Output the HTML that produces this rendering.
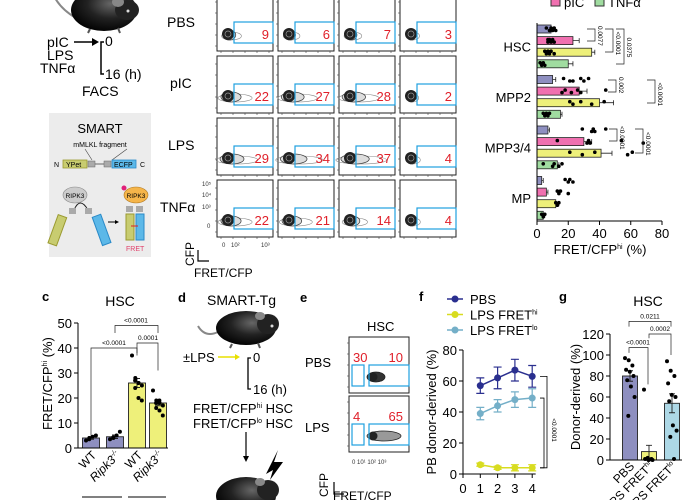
<!DOCTYPE html>
<html><head><meta charset="utf-8"><style>
body{margin:0;background:#fff;}
svg{display:block;font-family:"Liberation Sans",Arial,sans-serif;}
</style></head><body>
<svg id="fig" width="685" height="500" viewBox="0 0 685 500" xmlns="http://www.w3.org/2000/svg">
<defs>
<radialGradient id="mg" cx="0.6" cy="0.35" r="0.7"><stop offset="0" stop-color="#666"/><stop offset="0.5" stop-color="#222"/><stop offset="1" stop-color="#000"/></radialGradient>
</defs>
<!-- Panel a schematic -->
<g>
<path d="M76 18 Q62 10 55 -2" stroke="#888" stroke-width="2" fill="none"/>
<ellipse cx="104" cy="10" rx="33" ry="21" fill="url(#mg)"/>
<ellipse cx="127" cy="10" rx="12" ry="10" fill="#222"/>
<ellipse cx="118" cy="2" rx="6" ry="5" fill="#888"/>
<circle cx="128" cy="11" r="1.5" fill="#ddd"/>
<line x1="90" y1="29" x2="88" y2="33" stroke="#555" stroke-width="2"/><line x1="118" y1="28" x2="120" y2="33" stroke="#555" stroke-width="2"/>
</g>
<g font-size="14">
<text x="47" y="47">pIC</text><text x="47" y="60">LPS</text><text x="40" y="73">TNFα</text>
</g>
<line x1="74" y1="42" x2="92" y2="42" stroke="#000" stroke-width="1.5"/><polygon points="92,38 99,42 92,46" fill="#000"/>
<path d="M104 42 H101 V74 H104" stroke="#000" stroke-width="1.5" fill="none"/>
<text x="105" y="46" font-size="14">0</text><text x="105" y="79" font-size="14">16 (h)</text>
<text x="82" y="96" font-size="14">FACS</text>
<g>
<rect x="49" y="113" width="102" height="144" fill="#ececec"/>
<text x="100" y="133" font-size="13" text-anchor="middle">SMART</text>
<text x="100" y="147" font-size="7" text-anchor="middle">mMLKL fragment</text>
<line x1="85" y1="149" x2="92" y2="160" stroke="#444" stroke-width="0.6"/><line x1="127" y1="149" x2="112" y2="160" stroke="#444" stroke-width="0.6"/>
<text x="54" y="167" font-size="7">N</text>
<rect x="63" y="160" width="24" height="8" fill="#c8cc70" stroke="#9a9a30" stroke-width="0.8"/><text x="66" y="167" font-size="7">YPet</text>
<rect x="88" y="161" width="7" height="6" fill="#aaa" stroke="#666" stroke-width="0.5"/><line x1="95" y1="164" x2="104" y2="164" stroke="#666"/>
<rect x="104" y="161" width="7" height="6" fill="#aaa" stroke="#666" stroke-width="0.5"/>
<rect x="112" y="160" width="24" height="8" fill="#5cb8e8" stroke="#2a8ac8" stroke-width="0.8"/><text x="114" y="167" font-size="7">ECFP</text>
<text x="140" y="167" font-size="7">C</text>
<ellipse cx="75" cy="195" rx="12" ry="8" fill="#ccc" stroke="#888" stroke-width="0.6"/><text x="75" y="198" font-size="6.5" text-anchor="middle">RIPK3</text>
<path d="M74 210 Q80 196 88 210" stroke="#222" fill="none"/>
<rect x="69" y="208" width="7" height="6" fill="#aaa"/><rect x="85" y="208" width="7" height="6" fill="#aaa"/>
<rect x="58" y="216" width="9" height="30" fill="#c8cc70" stroke="#9a9a30" transform="rotate(20 62 216)"/>
<rect x="92" y="216" width="9" height="30" fill="#5cb8e8" stroke="#2a8ac8" transform="rotate(-20 96 216)"/>
<line x1="108" y1="222" x2="115" y2="222" stroke="#000"/><polygon points="115,220 119,222 115,224" fill="#000"/>
<ellipse cx="136" cy="195" rx="12" ry="8" fill="#f5b54a" stroke="#b07820" stroke-width="0.6"/><text x="136" y="198" font-size="6.5" text-anchor="middle">RIPK3</text>
<circle cx="124" cy="188" r="2.5" fill="#e0207a"/>
<rect x="126" y="206" width="7" height="6" fill="#aaa"/><rect x="136" y="206" width="7" height="6" fill="#aaa"/>
<rect x="126" y="214" width="8" height="26" fill="#c8cc70" stroke="#9a9a30"/><rect x="136" y="214" width="8" height="26" fill="#5cb8e8" stroke="#2a8ac8"/>
<line x1="131" y1="226" x2="138" y2="226" stroke="#e02020"/>
<text x="126" y="251" font-size="7" fill="#e0406a">FRET</text>
</g>
<!-- panel b flow grid -->
<g id="flow"></g>
<g font-size="14">
<text x="167" y="27">PBS</text><text x="170" y="88">pIC</text><text x="168" y="150">LPS</text><text x="160" y="212">TNFα</text>
</g>
<g font-size="6" fill="#333">
<text x="202" y="186">10⁵</text><text x="202" y="197">10⁴</text><text x="202" y="209">10³</text><text x="207" y="228">0</text>
<text x="222" y="247">0</text><text x="231" y="247">10²</text><text x="261" y="247">10³</text>
</g>
<text transform="translate(194 266) rotate(-90)" font-size="12">CFP</text>
<path d="M198 250 V261 H209" stroke="#000" fill="none" stroke-width="1.2"/>
<text x="194" y="277" font-size="12">FRET/CFP</text>
<!-- panel right bars -->
<g id="hbar"></g>
<!-- panel c -->
<g id="pc"></g>
<!-- panel d -->
<text x="178" y="302" font-size="13" font-weight="bold">d</text>
<text x="207" y="305" font-size="14">SMART-Tg</text>
<g>
<path d="M218 332 Q205 338 198 326" stroke="#888" stroke-width="2" fill="none"/>
<ellipse cx="246" cy="328" rx="30" ry="17" fill="url(#mg)"/><ellipse cx="268" cy="324" rx="11" ry="10" fill="#222"/><ellipse cx="260" cy="316" rx="5" ry="4" fill="#888"/>
<circle cx="272" cy="326" r="1.5" fill="#ddd"/>
<line x1="232" y1="344" x2="230" y2="348" stroke="#555" stroke-width="2"/><line x1="258" y1="343" x2="260" y2="348" stroke="#555" stroke-width="2"/>
</g>
<text x="183" y="362" font-size="13">±LPS</text>
<line x1="218" y1="357" x2="235" y2="357" stroke="#e8e000" stroke-width="1.5"/><polygon points="235,354 240,357 235,360" fill="#e8e000"/>
<path d="M251 358 H248 V389 H251" stroke="#000" stroke-width="1.3" fill="none"/>
<text x="253" y="362" font-size="13">0</text><text x="253" y="394" font-size="13">16 (h)</text>
<text x="193" y="413" font-size="13">FRET/CFP<tspan font-size="7" dy="-5">hi</tspan><tspan dy="5"> HSC</tspan></text>
<text x="193" y="428" font-size="13">FRET/CFP<tspan font-size="7" dy="-5">lo</tspan><tspan dy="5"> HSC</tspan></text>
<line x1="246" y1="432" x2="246" y2="457" stroke="#000" stroke-width="1.2"/><polygon points="243,456 246,462 249,456" fill="#000"/>
<g>
<ellipse cx="246" cy="496" rx="30" ry="19" fill="url(#mg)"/><ellipse cx="268" cy="490" rx="11" ry="10" fill="#222"/><ellipse cx="260" cy="482" rx="5" ry="4" fill="#888"/>
<polygon points="266,474 278,450 274,462 283,462 270,480 273,470" fill="#000"/>
</g>
<!-- panel e -->
<text x="300" y="302" font-size="13" font-weight="bold">e</text>
<text x="367" y="331" font-size="13">HSC</text>
<text x="305" y="367" font-size="13">PBS</text><text x="305" y="432" font-size="13">LPS</text>
<g id="pe"></g>
<text transform="translate(328 497) rotate(-90)" font-size="12">CFP</text>
<path d="M334 482 V494 H344" stroke="#000" fill="none" stroke-width="1.2"/>
<text x="333" y="500" font-size="12">FRET/CFP</text>
<!-- panel f -->
<g id="pf"></g>
<!-- panel g -->
<g id="pg"></g>
</svg>
<script>
const NS="http://www.w3.org/2000/svg";
function mk(p,t,a,txt){const e=document.createElementNS(NS,t);for(const k in a)e.setAttribute(k,a[k]);if(txt!==undefined)e.textContent=txt;p.appendChild(e);return e;}

// ---------- flow grid data ----------
const flowRows=["PBS","pIC","LPS","TNFα"];
const flowValues=[[9,6,7,3],[22,27,28,2],[29,34,37,4],[22,21,14,4]];
const flowCols=[217,278,339,400], flowTops=[-6,56,118,180];
const flow=document.getElementById('flow');
flowValues.forEach((row,r)=>row.forEach((v,c)=>{
  const x=flowCols[c], y=flowTops[r];
  const g=mk(flow,'g',{});
  
  
  mk(g,'rect',{x:x,y:y,width:56,height:57,fill:'#fff',stroke:'#222','stroke-width':1});
  for(let i=0;i<5;i++){mk(g,'line',{x1:x-2,x2:x,y1:y+8+i*11,y2:y+8+i*11,stroke:'#444','stroke-width':0.6});mk(g,'line',{y1:y+57,y2:y+59,x1:x+4+i*12,x2:x+4+i*12,stroke:'#444','stroke-width':0.6});}
  const tail=Math.min(v,40)*0.55;
  mk(g,'ellipse',{cx:x+12+tail/2,cy:y+42,rx:5+tail,ry:4,fill:'none',stroke:'#888','stroke-width':0.6});
  mk(g,'ellipse',{cx:x+11+tail/4,cy:y+41,rx:4+tail/2,ry:5,fill:'#ddd',stroke:'#444','stroke-width':0.8});
  mk(g,'circle',{cx:x+11,cy:y+40,r:6,fill:'#222'});
  mk(g,'circle',{cx:x+11,cy:y+40,r:3,fill:'none',stroke:'#999','stroke-width':0.7});
  mk(g,'rect',{x:x+17,y:y+28,width:39,height:21,fill:'none',stroke:'#1ea0e0','stroke-width':1.2});
  const t=mk(g,'text',{x:x+52,y:y+45,'font-size':13,fill:'#e0202a','text-anchor':'end'},v);
  
  
}));

// ---------- horizontal bar chart ----------
const hbGroups=["HSC","MPP2","MPP3/4","MP"];
const hbSeriesNames=["PBS","pIC","LPS","TNFα"];
const hbPBS=[9,10,7,3];
const hbPIC=[23,27,30,6];
const hbLPS=[35,40,41,12];
const hbTNF=[20,15,13,4];
const hbErr=[[2,2,1,1],[4,5,5,1],[2,9,7,2],[3,1,1,1]];
const hbDots=[
 [[6,8,9,10,11,12],[7,7,8,9,10,11],[5,6,7,8,9,11],[2,3,4,5]],
 [[17,23,28,30,33,21],[18,22,26,28,44,16],[21,23,28,35,43],[4,5,6,7,8]],
 [[29,35,36,37,44],[13,32,33,34,54,68],[21,29,37,58,61],[4,10,11,14,16]],
 [[18,20,21,23],[13,14,15,20],[12,13,14],[3,4,5]]];
const hbTicks=[0,20,40,60,80];
const hbColors=["#8e8fc0","#f070b0","#eef07a","#a0dca0"];
const hx=v=>537+v*1.5625;
const hy=(g,s)=>29+g*50.5+s*11.6;
const hb=document.getElementById('hbar');
mk(hb,'rect',{x:551,y:-2,width:9,height:8,fill:hbColors[1],stroke:'#333'});
mk(hb,'text',{x:564,y:7,'font-size':13},"pIC");
mk(hb,'rect',{x:595,y:-2,width:9,height:8,fill:hbColors[3],stroke:'#333'});
mk(hb,'text',{x:608,y:7,'font-size':13},"TNFα");
const hbSeries=[hbPBS,hbPIC,hbLPS,hbTNF];
hbGroups.forEach((gn,g)=>{
  const lab=mk(hb,'text',{x:531,y:hy(g,1.5)+5,'font-size':13,'text-anchor':'end'},gn);
  
  
  hbSeries.forEach((ser,s)=>{
    const v=ser[g],y=hy(g,s);
    const b=mk(hb,'rect',{x:hx(0),y:y-4,width:hx(v)-hx(0),height:8,fill:hbColors[s],stroke:'#222','stroke-width':0.8});
    
    
    const e=hbErr[s][g];
    mk(hb,'path',{d:`M${hx(v)} ${y}H${hx(v+e)}M${hx(v+e)} ${y-2.5}V${y+2.5}`,stroke:'#222','stroke-width':0.8,fill:'none'});
    hbDots[g][s].forEach((d,i)=>mk(hb,'circle',{cx:hx(d),cy:y+(i%2?1.5:-1),r:1.8,fill:'#000'}));
  });
});
mk(hb,'line',{x1:hx(0),x2:hx(0),y1:23,y2:221,stroke:'#000'});
mk(hb,'line',{x1:hx(0),x2:hx(80),y1:221,y2:221,stroke:'#000'});
hbTicks.forEach(t=>{mk(hb,'line',{x1:hx(t),x2:hx(t),y1:221,y2:225,stroke:'#000'});mk(hb,'text',{x:hx(t),y:238,'font-size':13,'text-anchor':'middle'},t);});
mk(hb,'text',{x:600,y:254,'font-size':13,'text-anchor':'middle'},"FRET/CFP").innerHTML='FRET/CFP<tspan font-size="7" dy="-5">hi</tspan><tspan dy="5"> (%)</tspan>';
const hbBr=[[29,41,595,"0.0077"],[29,52,613,"<0.0001"],[29,64,624,"0.0375"],[80,92,616,"0.002"],[80,103,655,"<0.0001"],[129,141,617,"<0.0001"],[129,153,643,"<0.0001"]];
hbBr.forEach(([a,b,x,l])=>{
  mk(hb,'path',{d:`M${x-8} ${a}H${x}V${b}H${x-8}`,stroke:'#222','stroke-width':0.7,fill:'none'});
  mk(hb,'text',{transform:`translate(${x+3} ${(a+b)/2-9}) rotate(90)`,'font-size':6.5},l);
});

// ---------- panel c ----------
const cCats=["WT","Ripk3-/-","WT","Ripk3-/-"];
const cMeans=[4,4.5,26,18];
const cErr=[0.5,0.7,1.8,1.1];
const cDots=[[3,4,4.5,5,3.5],[3.5,4,5,6.5,4.2],[37,28,26,25,24,20,19,27,26],[23,19,18,17,16,15,13,18,19]];
const cTicks=[0,10,20,30,40,50];
const cColors=["#8e8fc0","#8e8fc0","#eef07a","#eef07a"];
const cx=[91,115,137,158], cy=v=>448-v*2.5;
const pc=document.getElementById('pc');
mk(pc,'text',{x:42,y:301,'font-size':13,'font-weight':'bold'},"c");
mk(pc,'text',{x:120,y:306,'font-size':14,'text-anchor':'middle'},"HSC");
cMeans.forEach((v,i)=>{
  const b=mk(pc,'rect',{x:cx[i]-8.5,y:cy(v),width:17,height:cy(0)-cy(v),fill:cColors[i],stroke:'#222','stroke-width':0.9});
  
  
  mk(pc,'path',{d:`M${cx[i]} ${cy(v-cErr[i])}V${cy(v+cErr[i])}M${cx[i]-3} ${cy(v+cErr[i])}h6M${cx[i]-3} ${cy(v-cErr[i])}h6`,stroke:'#222','stroke-width':0.9});
  cDots[i].forEach((d,j)=>mk(pc,'circle',{cx:cx[i]-5+(j*3.3)%10,cy:cy(d),r:2,fill:'#000'}));
});
mk(pc,'line',{x1:78,x2:78,y1:cy(50),y2:cy(0),stroke:'#000'});
mk(pc,'line',{x1:78,x2:168,y1:cy(0),y2:cy(0),stroke:'#000'});
cTicks.forEach(t=>{mk(pc,'line',{x1:74,x2:78,y1:cy(t),y2:cy(t),stroke:'#000'});mk(pc,'text',{x:72,y:cy(t)+5,'font-size':13,'text-anchor':'end'},t);});
mk(pc,'text',{transform:'translate(52 430) rotate(-90)','font-size':13}).innerHTML='FRET/CFP<tspan font-size="7" dy="-5">hi</tspan><tspan dy="5"> (%)</tspan>';
mk(pc,'path',{d:`M91 ${cy(5)}V${cy(40)}H137V${cy(37)}`,stroke:'#222','stroke-width':0.7,fill:'none'});
mk(pc,'text',{x:114,y:cy(40)-3,'font-size':6.5,'text-anchor':'middle'},"<0.0001");
mk(pc,'path',{d:`M115 ${cy(46)}V${cy(49)}H158V${cy(46)}`,stroke:'#222','stroke-width':0.7,fill:'none'});
mk(pc,'path',{d:`M137 ${cy(38)}V${cy(42)}H158V${cy(31)}`,stroke:'#222','stroke-width':0.7,fill:'none'});
mk(pc,'text',{x:136,y:cy(49)-3,'font-size':6.5,'text-anchor':'middle'},"<0.0001");
mk(pc,'text',{x:148,y:cy(42)-3,'font-size':6.5,'text-anchor':'middle'},"0.0001");
cCats.forEach((c,i)=>{const t=mk(pc,'text',{transform:`translate(${cx[i]+6} 456) rotate(-45)`,'font-size':12,'text-anchor':'end','font-style':i%2?'italic':'normal'});t.innerHTML=i%2?'Ripk3<tspan font-size="7" dy="-5">-/-</tspan>':'WT';});
mk(pc,'line',{x1:82,x2:122,y1:497,y2:497,stroke:'#000'});mk(pc,'line',{x1:128,x2:166,y1:497,y2:497,stroke:'#000'});

// ---------- panel e ----------
const eRows=["PBS","LPS"];
const eLo=[30,4], eHi=[10,65];
const eTops=[337,396];
const pe=document.getElementById('pe');
eRows.forEach((r,i)=>{
  const x=349,y=eTops[i];
  mk(pe,'rect',{x:x,y:y,width:60,height:56,fill:'#fff',stroke:'#222'});
  for(let k=0;k<5;k++){mk(pe,'line',{x1:x-2,x2:x,y1:y+6+k*11,y2:y+6+k*11,stroke:'#444','stroke-width':0.6});}
  const w=i?22:6;
  mk(pe,'ellipse',{cx:x+24+w/2,cy:y+40,rx:6+w/2,ry:5,fill:i?'#999':'#333',stroke:'#222','stroke-width':0.8});
  mk(pe,'circle',{cx:x+24,cy:y+40,r:4.5,fill:'#222'});
  mk(pe,'rect',{x:x+3,y:y+28,width:12,height:21,fill:'none',stroke:'#1ea0e0','stroke-width':1.2});
  mk(pe,'rect',{x:x+20,y:y+28,width:40,height:21,fill:'none',stroke:'#1ea0e0','stroke-width':1.2});
  const a=mk(pe,'text',{x:x+4,y:y+25,'font-size':13,fill:'#e0202a'},eLo[i]);
  
  
  const b=mk(pe,'text',{x:x+54,y:y+25,'font-size':13,fill:'#e0202a','text-anchor':'end'},eHi[i]);
  
  
});
mk(pe,'text',{x:352,y:464,'font-size':6,fill:'#333'},"0   10¹ 10² 10³");

// ---------- panel f ----------
const fWeeks=[1,2,3,4];
const fPBS=[57,62,67,63], fPBSerr=[5,7,7,7];
const fHi=[6,4,4,4], fHiErr=[1,1,2,2];
const fLo=[39,44,48,49], fLoErr=[4,4,5,6];
const fYTicks=[0,20,40,60,80], fXTicks=[0,1,2,3,4];
const fx=v=>463+v*17.3, fy=v=>474-v*1.55;
const pf=document.getElementById('pf');
mk(pf,'text',{x:419,y:301,'font-size':13,'font-weight':'bold'},"f");
const fSeries=[[fPBS,fPBSerr,"#2a2f8f","PBS"],[fHi,fHiErr,"#d8dc20","LPS FRET<tspan font-size='7' dy='-5'>hi</tspan>"],[fLo,fLoErr,"#74afc8","LPS FRET<tspan font-size='7' dy='-5'>lo</tspan>"]];
fSeries.forEach(([vals,err,col,name],s)=>{
  const ly=299+s*15.5;
  mk(pf,'line',{x1:447,x2:463,y1:ly,y2:ly,stroke:col,'stroke-width':1.5});mk(pf,'circle',{cx:455,cy:ly,r:3.5,fill:col});
  mk(pf,'text',{x:470,y:ly+5,'font-size':13}).innerHTML=name;
  const l=mk(pf,'polyline',{points:vals.map((v,i)=>fx(fWeeks[i])+','+fy(v)).join(' '),fill:'none',stroke:col,'stroke-width':1.5});
  
  
  vals.forEach((v,i)=>{const X=fx(fWeeks[i]);
    mk(pf,'path',{d:`M${X} ${fy(v-err[i])}V${fy(v+err[i])}M${X-4} ${fy(v+err[i])}h8M${X-4} ${fy(v-err[i])}h8`,stroke:col,'stroke-width':1.2});
    const p=mk(pf,'circle',{cx:X,cy:fy(v),r:3.5,fill:col});
    
    });
});
mk(pf,'line',{x1:fx(0),x2:fx(0),y1:fy(80),y2:fy(0),stroke:'#000'});
mk(pf,'line',{x1:fx(0),x2:fx(4.2),y1:fy(0),y2:fy(0),stroke:'#000'});
fYTicks.forEach(t=>{mk(pf,'line',{x1:fx(0)-4,x2:fx(0),y1:fy(t),y2:fy(t),stroke:'#000'});mk(pf,'text',{x:fx(0)-6,y:fy(t)+5,'font-size':13,'text-anchor':'end'},t);});
fXTicks.forEach(t=>{mk(pf,'line',{x1:fx(t),x2:fx(t),y1:fy(0),y2:fy(0)+4,stroke:'#000'});mk(pf,'text',{x:fx(t),y:fy(0)+19,'font-size':13,'text-anchor':'middle'},t);});
mk(pf,'text',{transform:`translate(436 ${fy(40)}) rotate(-90)`,'font-size':13,'text-anchor':'middle'},"PB donor-derived (%)");
mk(pf,'path',{d:`M540 ${fy(63)}H547V${fy(4)}H540`,stroke:'#000',fill:'none','stroke-width':0.8});
mk(pf,'path',{d:`M540 ${fy(49)}H544V${fy(4)}H540`,stroke:'#000',fill:'none','stroke-width':0.8});
mk(pf,'text',{transform:`translate(552 ${fy(36)}) rotate(90)`,'font-size':6.5},"<0.0001");

// ---------- panel g ----------
const gCats=["PBS","LPS FRET hi","LPS FRET lo"];
const gMeans=[80,8,54], gErr=[5,6,9];
const gDots=[[97,95,90,86,84,80,76,70,60,42],[67,2,1,1,0,0],[94,85,80,73,62,60,56,33,28,22,1]];
const gTicks=[0,20,40,60,80,100,120];
const gColors=["#8e8fc0","#eef07a","#add8e6"];
const gx=[630,649,672], gy=v=>460-v*1.05;
const pg=document.getElementById('pg');
mk(pg,'text',{x:559,y:301,'font-size':13,'font-weight':'bold'},"g");
mk(pg,'text',{x:648,y:306,'font-size':14,'text-anchor':'middle'},"HSC");
gMeans.forEach((v,i)=>{
  const b=mk(pg,'rect',{x:gx[i]-7.5,y:gy(v),width:15,height:gy(0)-gy(v),fill:gColors[i],stroke:'#222','stroke-width':0.9});
  
  
  mk(pg,'path',{d:`M${gx[i]} ${gy(v-gErr[i])}V${gy(v+gErr[i])}M${gx[i]-3} ${gy(v+gErr[i])}h6M${gx[i]-3} ${gy(v-gErr[i])}h6`,stroke:'#222','stroke-width':0.9});
  gDots[i].forEach((d,j)=>mk(pg,'circle',{cx:gx[i]-5+(j*3.7)%10,cy:gy(d),r:2,fill:'#000'}));
});
mk(pg,'line',{x1:610,x2:610,y1:gy(120),y2:gy(0),stroke:'#000'});
mk(pg,'line',{x1:610,x2:682,y1:gy(0),y2:gy(0),stroke:'#000'});
gTicks.forEach(t=>{mk(pg,'line',{x1:606,x2:610,y1:gy(t),y2:gy(t),stroke:'#000'});mk(pg,'text',{x:604,y:gy(t)+5,'font-size':13,'text-anchor':'end'},t);});
mk(pg,'text',{transform:`translate(580 ${gy(60)}) rotate(-90)`,'font-size':13,'text-anchor':'middle'},"Donor-derived (%)");
mk(pg,'path',{d:`M629 ${gy(102)}V${gy(107)}H648V${gy(72)}`,stroke:'#222','stroke-width':0.7,fill:'none'});
mk(pg,'text',{x:638,y:gy(107)-3,'font-size':6.5,'text-anchor':'middle'},"<0.0001");
mk(pg,'path',{d:`M649 ${gy(116)}V${gy(120)}H671V${gy(100)}`,stroke:'#222','stroke-width':0.7,fill:'none'});
mk(pg,'text',{x:660,y:gy(120)-3,'font-size':6.5,'text-anchor':'middle'},"0.0002");
mk(pg,'path',{d:`M629 ${gy(127)}V${gy(132)}H671V${gy(127)}`,stroke:'#222','stroke-width':0.7,fill:'none'});
mk(pg,'text',{x:650,y:gy(132)-3,'font-size':6.5,'text-anchor':'middle'},"0.0211");
const gl=['PBS','LPS FRET<tspan font-size="7" dy="-5">hi</tspan>','LPS FRET<tspan font-size="7" dy="-5">lo</tspan>'];
gl.forEach((h,i)=>{const t=mk(pg,'text',{transform:`translate(${gx[i]+5} 467) rotate(-45)`,'font-size':12,'text-anchor':'end'});t.innerHTML=h;});
</script>
</body></html>
